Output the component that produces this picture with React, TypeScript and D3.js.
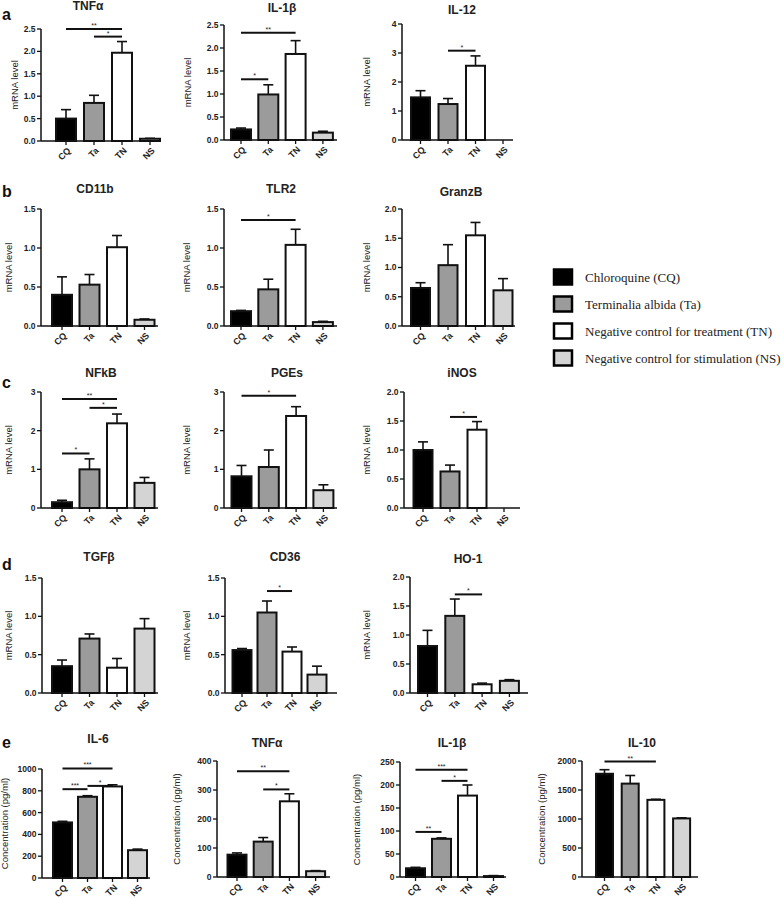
import React from "react";
import * as d3 from "d3";

// ---------- data ----------
const groups = ["CQ", "Ta", "TN", "NS"];
const groupNames = [
  "Chloroquine (CQ)",
  "Terminalia albida (Ta)",
  "Negative control for treatment (TN)",
  "Negative control for stimulation (NS)",
];

// (a) mRNA
const tnfMrnaMean = [0.5, 0.85, 1.97, 0.05];
const tnfMrnaSem = [0.2, 0.17, 0.25, 0.01];
const il1bMrnaMean = [0.23, 0.99, 1.87, 0.16];
const il1bMrnaSem = [0.03, 0.21, 0.29, 0.03];
const il12MrnaMean = [1.47, 1.24, 2.56, 0];
const il12MrnaSem = [0.23, 0.19, 0.34, 0];
// (b)
const cd11bMean = [0.4, 0.53, 1.01, 0.08];
const cd11bSem = [0.23, 0.13, 0.15, 0.01];
const tlr2Mean = [0.19, 0.47, 1.04, 0.05];
const tlr2Sem = [0.01, 0.13, 0.2, 0.01];
const granzbMean = [0.65, 1.04, 1.55, 0.61];
const granzbSem = [0.09, 0.35, 0.22, 0.2];
// (c)
const nfkbMean = [0.15, 1.0, 2.19, 0.65];
const nfkbSem = [0.05, 0.27, 0.24, 0.14];
const pgesMean = [0.82, 1.06, 2.38, 0.46];
const pgesSem = [0.28, 0.44, 0.24, 0.14];
const inosMean = [1.0, 0.63, 1.35, 0];
const inosSem = [0.14, 0.11, 0.14, 0];
// (d)
const tgfbMean = [0.35, 0.71, 0.33, 0.84];
const tgfbSem = [0.08, 0.06, 0.12, 0.13];
const cd36Mean = [0.56, 1.05, 0.54, 0.24];
const cd36Sem = [0.02, 0.15, 0.06, 0.11];
const ho1Mean = [0.81, 1.33, 0.15, 0.21];
const ho1Sem = [0.27, 0.29, 0.02, 0.02];
// (e) protein
const il6Mean = [510, 745, 840, 255];
const il6Sem = [10, 10, 15, 10];
const tnfProtMean = [77, 122, 261, 20];
const tnfProtSem = [6, 14, 26, 2];
const il1bProtMean = [19, 83, 177, 2];
const il1bProtSem = [2, 2, 23, 1];
const il10Mean = [1780, 1610, 1330, 1010];
const il10Sem = [70, 140, 10, 10];

// significance: [fromIdx, toIdx, level, label]
const sigTnfMrna = [[0, 2, 2.5, "**"], [1, 2, 2.33, "*"]];
const sigIl1bMrna = [[0, 2, 2.33, "**"], [0, 1, 1.32, "*"]];
const sigIl12 = [[1, 2, 3.08, "*"]];
const sigTlr2 = [[0, 2, 1.36, "*"]];
const sigNfkb = [[0, 2, 2.82, "**"], [1, 2, 2.59, "*"], [0, 1, 1.41, "*"]];
const sigPges = [[0, 2, 2.9, "*"]];
const sigInos = [[1, 2, 1.57, "*"]];
const sigCd36 = [[1, 2, 1.33, "*"]];
const sigHo1 = [[1, 2, 1.7, "*"]];
const sigIl6 = [[0, 2, 1005, "***"], [1, 2, 845, "*"], [0, 1, 815, "***"]];
const sigTnfProt = [[0, 2, 365, "**"], [1, 2, 302, "*"]];
const sigIl1bProt = [[0, 2, 233, "***"], [1, 2, 209, "*"], [0, 1, 98, "**"]];
const sigIl10 = [[0, 2, 1990, "**"]];

// axis tick settings: [max, step]
const mrnaLabel = "mRNA level";
const concLabel = "Concentration (pg/ml)";

// ---------- styles / layout ----------
const fills = ["#000000", "#9b9b9b", "#ffffff", "#d4d4d4"];
const SANS = "Arial, 'Liberation Sans', Helvetica, sans-serif";

type Layout = {
  ax: number; end: number; top: number; bot: number; c0: number; step: number;
  bw: number; ylx: number; tx: number; ty: number;
};

const L = (ax, end, top, bot, c0, step, bw, ylx, tx, ty): Layout => ({ ax, end, top, bot, c0, step, bw, ylx, tx, ty });

const panels = [
  { title: "TNFα", mean: tnfMrnaMean, sem: tnfMrnaSem, sig: sigTnfMrna, max: 2.5, tstep: 0.5, fmt: ".1f", yl: mrnaLabel, lay: L(41, 160, 29, 141, 66, 28, 20, 15, 88, 10) },
  { title: "IL-1β", mean: il1bMrnaMean, sem: il1bMrnaSem, sig: sigIl1bMrna, max: 2.5, tstep: 0.5, fmt: ".1f", yl: mrnaLabel, lay: L(224, 337, 25, 140, 241, 27.3, 20, 188, 282, 12) },
  { title: "IL-12", mean: il12MrnaMean, sem: il12MrnaSem, sig: sigIl12, max: 4, tstep: 1, fmt: "d", yl: mrnaLabel, lay: L(402, 513, 24, 140, 420.5, 27.5, 19, 367, 462, 14) },
  { title: "CD11b", mean: cd11bMean, sem: cd11bSem, sig: [], max: 1.5, tstep: 0.5, fmt: ".1f", yl: mrnaLabel, lay: L(41, 158, 209, 326, 62, 27.5, 20, 9, 95, 193) },
  { title: "TLR2", mean: tlr2Mean, sem: tlr2Sem, sig: sigTlr2, max: 1.5, tstep: 0.5, fmt: ".1f", yl: mrnaLabel, lay: L(224, 337, 209, 326, 241, 27.3, 20, 187, 281, 193) },
  { title: "GranzB", mean: granzbMean, sem: granzbSem, sig: [], max: 2.0, tstep: 0.5, fmt: ".1f", yl: mrnaLabel, lay: L(402, 515, 209, 326, 420.5, 27.5, 19, 367, 461, 196) },
  { title: "NFkB", mean: nfkbMean, sem: nfkbSem, sig: sigNfkb, max: 3, tstep: 1, fmt: "d", yl: mrnaLabel, lay: L(41, 158, 392, 508, 62, 27.5, 20, 9, 101, 377) },
  { title: "PGEs", mean: pgesMean, sem: pgesSem, sig: sigPges, max: 3, tstep: 1, fmt: "d", yl: mrnaLabel, lay: L(224, 337, 392, 508, 241.5, 27.3, 20, 187, 287, 377) },
  { title: "iNOS", mean: inosMean, sem: inosSem, sig: sigInos, max: 2.0, tstep: 0.5, fmt: ".1f", yl: mrnaLabel, lay: L(404, 520, 392, 508, 423, 27, 19, 367, 462, 377) },
  { title: "TGFβ", mean: tgfbMean, sem: tgfbSem, sig: [], max: 1.5, tstep: 0.5, fmt: ".1f", yl: mrnaLabel, lay: L(42, 158, 578, 693, 62, 27.5, 20, 9, 99, 561) },
  { title: "CD36", mean: cd36Mean, sem: cd36Sem, sig: sigCd36, max: 1.5, tstep: 0.5, fmt: ".1f", yl: mrnaLabel, lay: L(225, 337, 578, 693, 242, 25, 19, 187, 285, 561) },
  { title: "HO-1", mean: ho1Mean, sem: ho1Sem, sig: sigHo1, max: 2.0, tstep: 0.5, fmt: ".1f", yl: mrnaLabel, lay: L(410, 528, 577, 693, 427.5, 27.3, 19, 367, 468, 563) },
  { title: "IL-6", mean: il6Mean, sem: il6Sem, sig: sigIl6, max: 1000, tstep: 200, fmt: "d", yl: concLabel, lay: L(42, 150, 769, 878, 62.5, 25, 19, 5, 98, 743) },
  { title: "TNFα", mean: tnfProtMean, sem: tnfProtSem, sig: sigTnfProt, max: 400, tstep: 100, fmt: "d", yl: concLabel, lay: L(217, 330, 761, 877, 237, 26.2, 19, 177, 267, 747) },
  { title: "IL-1β", mean: il1bProtMean, sem: il1bProtSem, sig: sigIl1bProt, max: 250, tstep: 50, fmt: "d", yl: concLabel, lay: L(400, 506, 762, 877, 415.5, 26, 19, 357, 452, 747) },
  { title: "IL-10", mean: il10Mean, sem: il10Sem, sig: sigIl10, max: 2000, tstep: 500, fmt: "d", yl: concLabel, lay: L(582, 698, 761, 877, 604.5, 25.7, 17, 542, 642, 747) },
];

const letters = [
  { t: "a", x: 2, y: 20 },
  { t: "b", x: 2, y: 197 },
  { t: "c", x: 2, y: 388 },
  { t: "d", x: 2, y: 570 },
  { t: "e", x: 2, y: 748 },
];

function Panel({ p }) {
  const lay: Layout = p.lay;
  const y = d3.scaleLinear().domain([0, p.max]).range([lay.bot, lay.top]);
  const x = d3.scalePoint().domain(groups).range([lay.c0, lay.c0 + 3 * lay.step]);
  const nt = Math.round(p.max / p.tstep);
  const ticks = d3.range(0, nt + 1).map((i) => i * p.tstep);
  const fmt = d3.format(p.fmt);
  const midY = (lay.top + lay.bot) / 2;
  return (
    <g>
      <text x={lay.tx} y={lay.ty} textAnchor="middle" fontFamily={SANS} fontWeight="bold" fontSize={12} fill="#222">{p.title}</text>
      <text transform={`translate(${lay.ylx},${midY}) rotate(-90)`} dy="0.35em" textAnchor="middle" fontFamily={SANS} fontSize={9.5} fill="#222">{p.yl}</text>
      {/* bars */}
      {groups.map((g, i) => {
        const m = p.mean[i];
        if (m <= 0) return null;
        const cx = x(g);
        const top = y(m);
        const et = y(m + p.sem[i]);
        return (
          <g key={g}>
            {p.sem[i] > 0 && (
              <g stroke="#111" strokeWidth={1.6}>
                <line x1={cx} x2={cx} y1={top} y2={et} />
                <line x1={cx - 5} x2={cx + 5} y1={et} y2={et} />
              </g>
            )}
            <rect x={cx - lay.bw / 2} y={top} width={lay.bw} height={lay.bot - top} fill={fills[i]} stroke="#111" strokeWidth={2} />
          </g>
        );
      })}
      {/* y axis */}
      <line x1={lay.ax} x2={lay.ax} y1={lay.top} y2={lay.bot} stroke="#111" strokeWidth={1.5} />
      {ticks.map((t) => (
        <g key={t}>
          <line x1={lay.ax - 4} x2={lay.ax} y1={y(t)} y2={y(t)} stroke="#111" strokeWidth={1.3} />
          <text x={lay.ax - 5.5} y={y(t)} dy="0.35em" textAnchor="end" fontFamily={SANS} fontWeight="bold" fontSize={8.5} fill="#222">{fmt(t)}</text>
        </g>
      ))}
      {/* x axis */}
      <line x1={lay.ax} x2={lay.end} y1={lay.bot} y2={lay.bot} stroke="#111" strokeWidth={1.5} />
      {groups.map((g) => (
        <g key={"xt" + g}>
          <line x1={x(g)} x2={x(g)} y1={lay.bot} y2={lay.bot + 4} stroke="#111" strokeWidth={1.3} />
          <text transform={`translate(${x(g) + 3},${lay.bot + 8}) rotate(-45)`} dy="0.35em" textAnchor="end" fontFamily={SANS} fontWeight="bold" fontSize={9} fill="#222">{g}</text>
        </g>
      ))}
      {/* significance */}
      {p.sig.map((s, k) => {
        const x1 = x(groups[s[0]]);
        const x2 = x(groups[s[1]]);
        const yy = y(s[2]);
        return (
          <g key={"s" + k}>
            <line x1={x1} x2={x2} y1={yy} y2={yy} stroke="#111" strokeWidth={2} />
            <text x={(x1 + x2) / 2} y={yy - 1} textAnchor="middle" fontFamily={SANS} fontSize={7} fill="#222">{s[3]}</text>
          </g>
        );
      })}
    </g>
  );
}

function Legend() {
  const ly = d3.scalePoint().domain(groups).range([277, 358]);
  return (
    <g>
      {groups.map((g, i) => (
        <g key={g}>
          <rect x={554} y={ly(g) - 7.5} width={18} height={15} fill={fills[i]} stroke="#000" strokeWidth={2.5} />
          <text x={585} y={ly(g)} dy="0.35em" fontFamily="'Liberation Serif', 'Times New Roman', serif" fontSize={13} fill="#222">{groupNames[i]}</text>
        </g>
      ))}
    </g>
  );
}

export default function App() {
  return (
    <svg width={784} height={898} style={{ position: "absolute", left: 0, top: 0, background: "#fff" }}>
      <rect width={784} height={898} fill="#fff" />
      {letters.map((l) => (
        <text key={l.t} x={l.x} y={l.y} fontFamily={SANS} fontWeight="bold" fontSize={16} fill="#111">{l.t}</text>
      ))}
      {panels.map((p, i) => (
        <Panel key={i} p={p} />
      ))}
      <Legend />
    </svg>
  );
}
